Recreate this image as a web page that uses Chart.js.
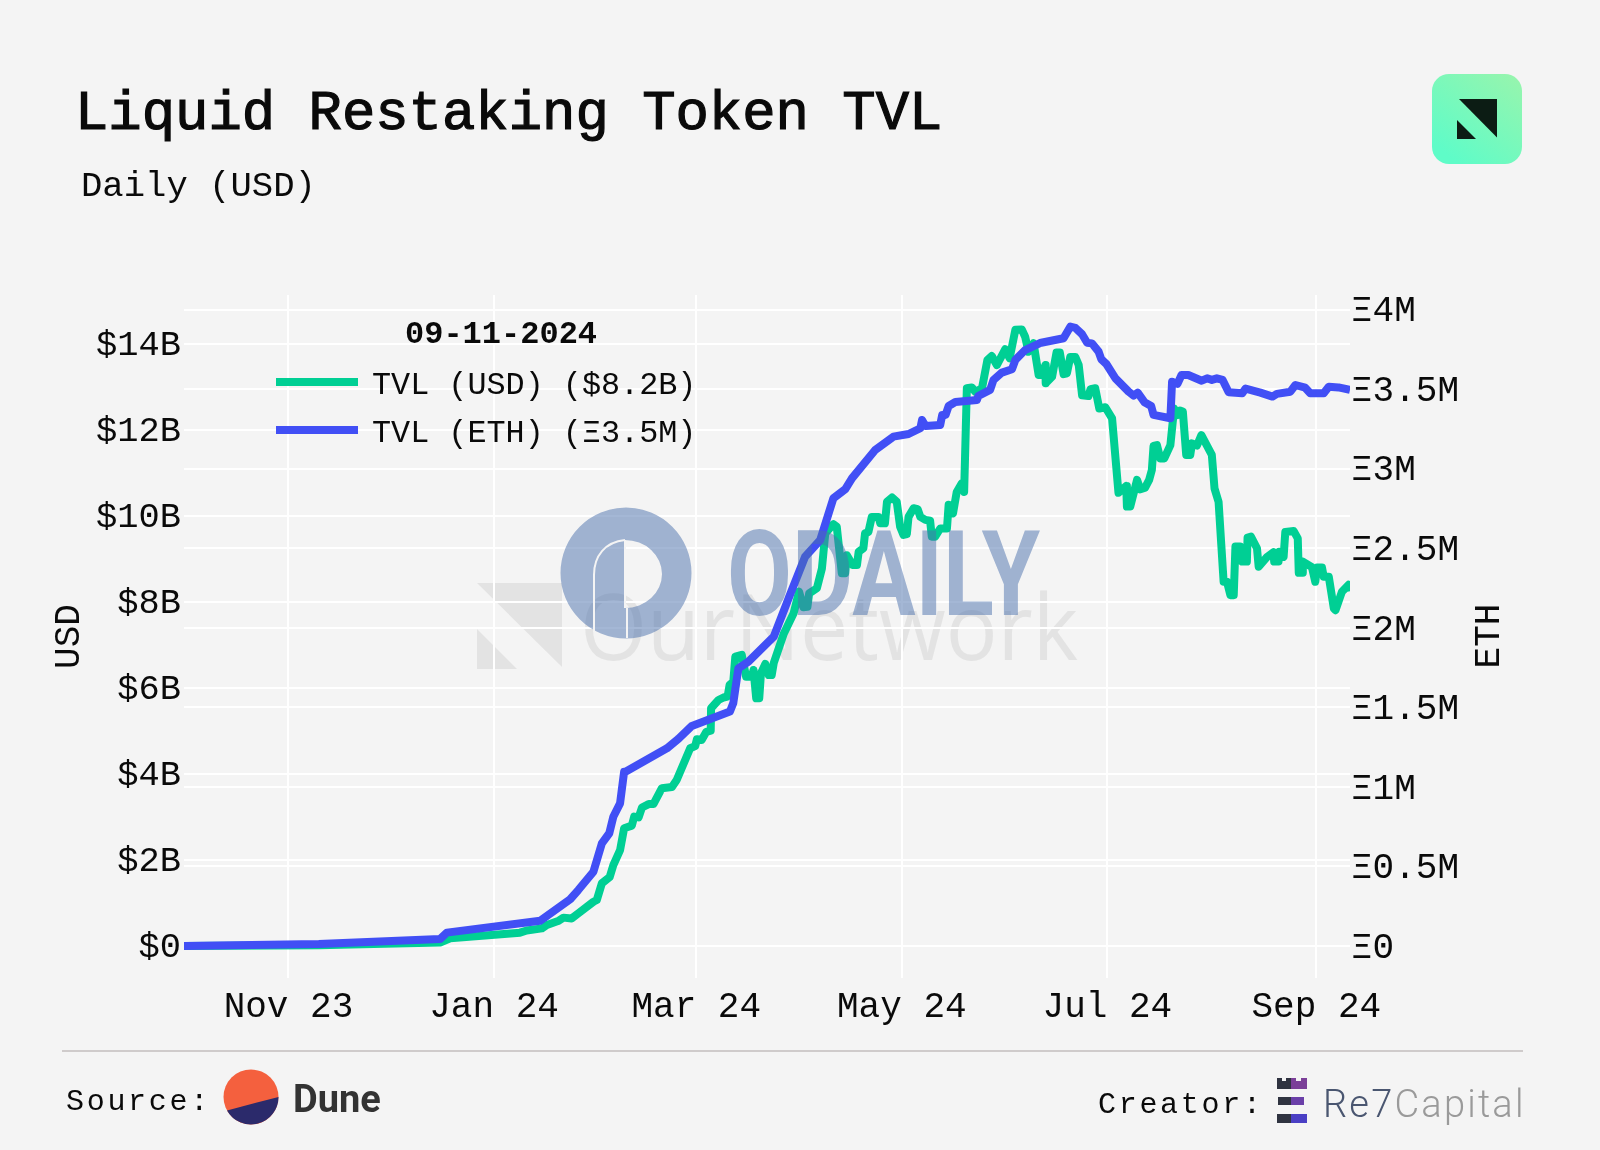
<!DOCTYPE html>
<html>
<head>
<meta charset="utf-8">
<title>Liquid Restaking Token TVL</title>
<script src="https://cdn.jsdelivr.net/npm/chart.js@4"></script>
<style>
  body { margin: 0; background: #f4f4f4; }
  #page { position: relative; width: 1600px; height: 1150px; overflow: hidden; font-family: "Liberation Mono", monospace; color: #0a0a0a; }
  #page > * { position: absolute; }
  canvas { left: 0; top: 0; z-index: 1; }
  svg { left: 0; top: 0; }
  .txt { white-space: pre; z-index: 3; line-height: 1; }
  #title { left: 75px; top: 87px; font-size: 55.6px; -webkit-text-stroke: 1.2px #0a0a0a; }
  #subtitle { left: 81px; top: 169px; font-size: 35.6px; }
  #legendDate { left: 405px; top: 319px; font-size: 32px; font-weight: bold; }
  .swatch { left: 276px; width: 82px; height: 8px; z-index: 3; }
  .legendText { left: 372px; font-size: 31.8px; }
  #rule { left: 62px; top: 1050px; width: 1461px; height: 2px; background: #cfcbcb; }
  .foot { font-size: 30px; letter-spacing: 2.7px; }
  #ethTitle { left: 1490px; top: 636px; font-size: 36px; transform: translate(-50%, -50%) rotate(-90deg); }
</style>
</head>
<body>
<div id="page">
  <svg id="back" width="1600" height="1150" style="z-index:0">
    <polygon points="477,583 562,583 562,667" fill="#e3e3e3"/>
    <polygon points="477,629 477,669 517,669" fill="#e3e3e3"/>
    <text x="580" y="660" font-family="Open Sans" font-size="92" fill="#e3e3e3" textLength="498" lengthAdjust="spacingAndGlyphs">OurNetwork</text>
  </svg>
  <canvas id="tvlChart" width="1600" height="1150"></canvas>
  <svg id="front" width="1600" height="1150" style="z-index:2">
    <g opacity="0.5">
      <path fill="#4a70ac" fill-rule="evenodd" d="M560.5,573 a65.5,65.5 0 1 0 131,0 a65.5,65.5 0 1 0 -131,0 Z M625,540 A37,34 0 0 1 625,608 Z"/>
      <text x="727" y="615" font-family="Roboto" font-weight="700" font-size="118" fill="#4a70ac" textLength="313" lengthAdjust="spacingAndGlyphs">ODAILY</text>
    </g>
    <path d="M625,540 C605,542 594,556 594,575 L594,632 M625,540 L625,608 M627,608 L627,638" fill="none" stroke="#f4f4f4" stroke-width="2"/>

    <defs>
      <linearGradient id="logoFill" x1="1" y1="0.1" x2="0.3" y2="1">
        <stop offset="0" stop-color="#95f5ae"/>
        <stop offset="1" stop-color="#5ffcc8"/>
      </linearGradient>
    </defs>
    <rect x="1432" y="74" width="90" height="90" rx="17" fill="url(#logoFill)"/>
    <polygon points="1459,99 1497,99 1497,137.5" fill="#0c1c14"/>
    <polygon points="1457,120 1457,139 1476,139" fill="#0c1c14"/>

    <!-- Dune logo -->
    <circle cx="251" cy="1097" r="27.5" fill="#f4603e"/>
    <path d="M227,1110.4 L278.5,1097 A27.5,27.5 0 0 1 227,1110.4 Z" fill="#2b2a6b"/>

    <!-- Re7 logo -->
    <path d="M1277,1078 h5 v3 h4 v-3 h5 v11 h-14 Z" fill="#2f3340"/>
    <path d="M1291,1078 h5 v3 h5 v-3 h6 v11 h-16 Z" fill="#7b3f98"/>
    <rect x="1278" y="1097" width="13" height="8" fill="#2f3340"/>
    <rect x="1291" y="1097" width="13" height="8" fill="#6a3fa8"/>
    <rect x="1277" y="1114" width="14" height="9" fill="#2f3340"/>
    <rect x="1291" y="1114" width="16" height="9" fill="#4a3fc4"/>
  </svg>

  <div class="txt" id="title">Liquid Restaking Token TVL</div>
  <div class="txt" id="subtitle">Daily (USD)</div>

  <div class="txt" id="legendDate">09-11-2024</div>
  <div class="swatch" style="top:378px;background:#00cf94"></div>
  <div class="swatch" style="top:426px;background:#414ff5"></div>
  <div class="txt legendText" style="top:371px">TVL (USD) ($8.2B)</div>
  <div class="txt legendText" style="top:419px">TVL (ETH) (Ξ3.5M)</div>

  <div class="txt" id="ethTitle">ETH</div>

  <div id="rule"></div>
  <div class="txt foot" style="left:66px;top:1087px">Source:</div>
  <div class="txt" style="left:293px;top:1077px;font:bold 38px Roboto;color:#333">Dune</div>
  <div class="txt foot" style="left:1098px;top:1090px">Creator:</div>
  <div class="txt" style="left:1323px;top:1082px;font:300 38px Roboto;letter-spacing:2.2px;color:#9a9a9a"><span style="color:#4a5670">Re7</span>Capital</div>
</div>

<script>
// days counted from 2023-10-01
const monthDays = [31, 92, 152, 213, 274, 336];
const monthLabels = ["Nov 23", "Jan 24", "Mar 24", "May 24", "Jul 24", "Sep 24"];
const lastDay = 346;

const usdTicks = [0, 2, 4, 6, 8, 10, 12, 14];
const ethTicks = [0, 0.5, 1, 1.5, 2, 2.5, 3, 3.5, 4];

const usdDays = [0, 40, 76, 79, 99.7, 101.7, 106.2, 107.7, 111, 112.6, 115, 117, 121.5, 122.5, 124, 126.3,
  127.4, 129.4, 130.6, 132.9, 133.6, 134.9, 135.9, 137.9, 139.3, 141.8, 144.8, 146.2, 150.2, 151.7, 152.2,
  153.6, 155, 156.3, 156.4, 158.6, 160.1, 161.3, 161.9, 163, 163.6, 165.5, 166.8, 168.5, 169, 169.8, 170.7,
  171.2, 172.5, 173.5, 174.4, 175, 178, 180.9, 182.5, 183.8, 185, 185.5, 187.8, 189.3, 190.3, 192.7, 193.7,
  195.2, 196.2, 196.7, 198.4, 199.7, 200.2, 201.6, 202.1, 203.1, 204.1, 206.1, 206.6, 208, 208.6, 210.1,
  211.5, 212.5, 213.5, 214.5, 215, 216.5, 217.7, 218.5, 220, 221.4, 221.9, 222.9, 224.4, 226.4, 226.9, 228.2,
  229.3, 230.8, 231.5, 232.3, 233.8, 234.8, 236.8, 238.4, 239.7, 241.2, 243.7, 245, 246.7, 248.6, 249.6,
  250.6, 252.1, 253.6, 254.6, 255.6, 255.7, 257.6, 258.9, 259.9, 261, 262, 263, 264.5, 265.5, 266.5, 268.4,
  269, 270.4, 271.6, 273.4, 275.4, 277.3, 279.6, 279.8, 280.8, 282.8, 283.8, 285.2, 286.4, 287.2, 287.7,
  288.7, 289.7, 290.9, 292.7, 293.8, 295, 295.6, 296.4, 297.4, 298.6, 299.1, 300.6, 301.9, 305, 305.8, 307,
  308.5, 309.5, 310.5, 311.5, 312, 313.4, 314, 315.4, 315.6, 316.6, 318.4, 318.9, 321.4, 323.3, 323.5, 324.8,
  325, 326.3, 326.8, 329.3, 330.5, 330.8, 331.8, 332, 334.7, 335.7, 336.2, 337.7, 338.2, 339.7, 341.2, 341.7,
  343.6, 345.6, 346];
const usdValues = [0, 0.02, 0.08, 0.18, 0.31, 0.36, 0.41, 0.49, 0.58, 0.66, 0.64, 0.76, 1.03, 1.07, 1.46, 1.6,
  1.88, 2.23, 2.74, 2.8, 3.01, 2.99, 3.22, 3.3, 3.3, 3.67, 3.7, 3.86, 4.6, 4.65, 4.81,
  4.79, 4.98, 5.01, 5.53, 5.72, 5.78, 5.8, 6.07, 6.15, 6.73, 6.77, 6.26, 6.26, 6.42, 5.76, 5.76,
  6.34, 6.56, 6.3, 6.3, 6.58, 7.27, 7.74, 8.24, 7.88, 7.89, 8.2, 8.32, 8.78, 9.6, 9.81, 9.75,
  8.67, 8.67, 9.09, 8.86, 8.86, 9.17, 9.25, 9.6, 9.63, 9.98, 9.98, 9.83, 9.83, 10.33, 10.43,
  10.33, 9.75, 9.56, 9.58, 9.98, 10.18, 10.16, 9.98, 9.91, 9.89, 9.52, 9.52, 9.71, 9.71, 10.26, 10.06,
  10.56, 10.76, 10.56, 12.97, 12.99, 12.89, 12.97, 13.63, 13.72, 13.51, 13.88, 13.67, 14.33, 14.34, 14.17,
  13.82, 14.02, 13.28, 13.28, 13.51, 13.09, 13.24, 13.8, 13.8, 13.3, 13.32, 13.7, 13.7, 13.51, 12.81, 12.79,
  12.95, 12.97, 12.5, 12.53, 12.27, 10.54, 10.7, 10.22, 10.22, 10.84, 10.62, 10.66, 10.84, 11.07, 11.63,
  11.65, 11.34, 11.34, 11.65, 12.5, 12.35, 12.45, 12.43, 11.42, 11.42, 11.69, 11.64, 11.88, 11.42, 10.64, 10.33,
  8.47, 8.47, 8.16, 8.16, 9.29, 9.29, 8.94, 8.94, 9.5, 9.52, 9.25, 8.82, 9.05, 9.16, 8.94, 8.94,
  9.17, 9.05, 9.63, 9.65, 9.48, 8.68, 8.68, 8.94, 8.81, 8.47, 8.8, 8.8, 8.59, 8.59, 7.85, 7.81,
  8.24, 8.4, 8.25];

const ethDays = [0, 40, 76, 78, 105.7, 114.6, 117, 121.5, 124, 126.2, 127.4, 129.4, 130.6, 131, 143.3, 146.7,
  150.7, 162, 163, 164.5, 167.5, 170.5, 175, 180, 184.3, 188.8, 192.7, 196.2, 198.2, 205.1, 210.5, 215, 218.5,
  219, 220, 224.4, 225, 226, 226.9, 228.9, 235.3, 235.7, 239.2, 240.2, 242.7, 245.7, 246.7, 249.6, 254, 261,
  263, 264.5, 266.5, 268, 269.4, 271.4, 272.2, 273.7, 276.4, 280.3, 281.8, 283, 285, 287, 287.7, 292.7, 293.2,
  294.8, 296, 298, 302, 303.6, 305, 306.5, 308.2, 310, 314, 315, 319.4, 323, 324.3, 328.3, 329.8, 332.7, 334.2,
  338.2, 339.7, 342.6, 346];
const ethValues = [0, 0.013, 0.044, 0.084, 0.159, 0.294, 0.352, 0.467, 0.646, 0.709, 0.813, 0.897, 1.096, 1.096, 1.243, 1.302,
  1.384, 1.474, 1.528, 1.746, 1.788, 1.851, 1.945, 2.218, 2.448, 2.553, 2.816, 2.872, 2.941, 3.119, 3.203, 3.22, 3.256,
  3.308, 3.27, 3.277, 3.34, 3.34, 3.396, 3.421, 3.434, 3.459, 3.497, 3.56, 3.606, 3.627, 3.686, 3.748, 3.792, 3.822,
  3.895, 3.887, 3.847, 3.794, 3.79, 3.738, 3.69, 3.66, 3.57, 3.486, 3.461, 3.48, 3.42, 3.396, 3.34, 3.319, 3.549,
  3.535, 3.591, 3.591, 3.555, 3.57, 3.56, 3.57, 3.56, 3.482, 3.476, 3.505, 3.48, 3.455, 3.472, 3.486, 3.528, 3.511, 3.476,
  3.476, 3.517, 3.513, 3.497];

const green = "#00cf94";
const blue = "#414ff5";
const axisFont = { family: "Liberation Mono", size: 36 };
const usdFont = { family: "Liberation Mono", size: 35.4 };

const toPoints = (days, values) => days.map((d, i) => ({ x: d, y: values[i] }));

new Chart(document.getElementById("tvlChart"), {
  type: "line",
  data: {
    datasets: [{
      label: "TVL (USD)",
      data: toPoints(usdDays, usdValues),
      yAxisID: "usd",
      borderColor: green,
      borderWidth: 8,
      order: 2
    }, {
      label: "TVL (ETH)",
      data: toPoints(ethDays, ethValues),
      yAxisID: "eth",
      borderColor: blue,
      borderWidth: 8,
      order: 1
    }]
  },
  options: {
    responsive: false,
    animation: false,
    layout: { padding: { top: 295 } },
    elements: { point: { radius: 0 }, line: { tension: 0, borderJoinStyle: "round" } },
    plugins: { legend: { display: false }, tooltip: { enabled: false } },
    scales: {
      x: {
        type: "linear",
        min: 0,
        max: lastDay,
        border: { display: false },
        grid: { color: "#ffffff", lineWidth: 2, drawTicks: false },
        afterBuildTicks: s => { s.ticks = monthDays.map(v => ({ value: v })); },
        afterFit: s => { s.height = 172; },
        ticks: {
          font: axisFont,
          color: "#0a0a0a",
          padding: 8,
          autoSkip: false,
          maxRotation: 0,
          callback: v => monthLabels[monthDays.indexOf(v)]
        }
      },
      usd: {
        position: "left",
        min: -0.744,
        max: 15.14,
        border: { display: false },
        grid: { color: "#ffffff", lineWidth: 2, drawTicks: false },
        afterBuildTicks: s => { s.ticks = usdTicks.map(v => ({ value: v })); },
        afterFit: s => { s.width = 184; },
        title: { display: true, text: "USD", font: axisFont, color: "#0a0a0a", padding: { top: 48, bottom: 0 } },
        ticks: { font: usdFont, color: "#0a0a0a", padding: 3, labelOffset: 2, callback: v => "$" + v + (v ? "B" : "") }
      },
      eth: {
        position: "right",
        min: -0.2013,
        max: 4.094,
        border: { display: false },
        grid: { color: "#ffffff", lineWidth: 2, drawTicks: false },
        afterBuildTicks: s => { s.ticks = ethTicks.map(v => ({ value: v })); },
        afterFit: s => { s.width = 250; },
        ticks: { font: axisFont, color: "#0a0a0a", padding: 1, labelOffset: 2, callback: v => "Ξ" + v + (v ? "M" : "") }
      }
    }
  }
});
</script>
</body>
</html>
